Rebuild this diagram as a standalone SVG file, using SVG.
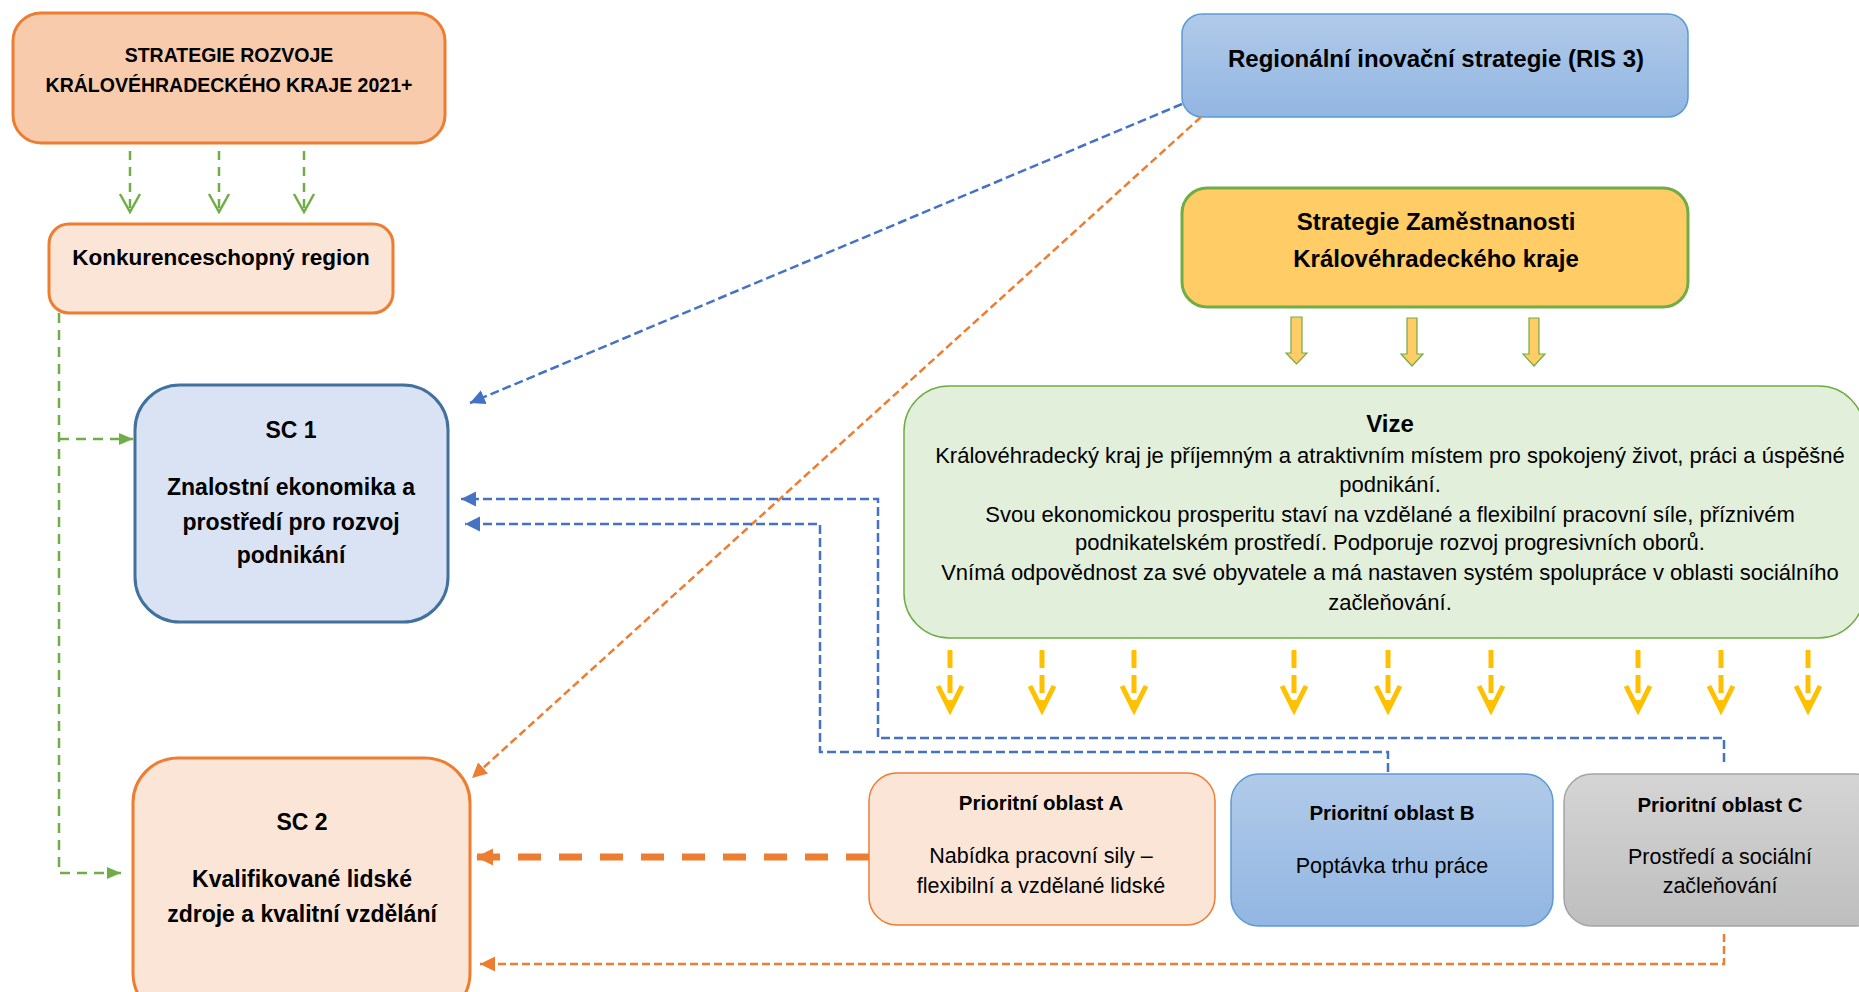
<svg xmlns="http://www.w3.org/2000/svg" width="1859" height="992" viewBox="0 0 1859 992">
<style>
text{font-family:"Liberation Sans",Arial,sans-serif;fill:#000;text-anchor:middle}
.b{font-weight:bold}
.t1{font-size:19.5px}
.t2{font-size:22.5px}
.t3{font-size:23px}
.t4{font-size:24px}
.tp{font-size:20.5px}
.r{font-size:21.5px}
.rv{font-size:22px}
.ob{stroke:#ED7D31;stroke-width:3}
.ob1{stroke:#ED7D31;stroke-width:1.5}
.gd{fill:none;stroke:#70AD47;stroke-width:2.5;stroke-dasharray:10 7}
.bd{fill:none;stroke:#4472C4;stroke-width:2.5;stroke-dasharray:9 4}
.od{fill:none;stroke:#ED7D31;stroke-width:2.5;stroke-dasharray:8 4}
.yd{fill:none;stroke:#FFC000;stroke-width:5}
.ya{fill:#FFCC66;stroke:#70AD47;stroke-width:1.2}
</style>
<defs>
<linearGradient id="gBlue" x1="0" y1="0" x2="0" y2="1"><stop offset="0" stop-color="#B1CAE9"/><stop offset="1" stop-color="#92B6E2"/></linearGradient>
<linearGradient id="gGray" x1="0" y1="0" x2="0" y2="1"><stop offset="0" stop-color="#D5D5D5"/><stop offset="1" stop-color="#BEBEBE"/></linearGradient>
<marker id="mB" markerUnits="userSpaceOnUse" markerWidth="16" markerHeight="16" refX="15" refY="7.5" orient="auto"><path d="M0,0 L15,7.5 L0,15 z" fill="#4472C4"/></marker>
<marker id="mO" markerUnits="userSpaceOnUse" markerWidth="16" markerHeight="16" refX="15" refY="7.5" orient="auto"><path d="M0,0 L15,7.5 L0,15 z" fill="#ED7D31"/></marker>
<marker id="mOT" markerUnits="userSpaceOnUse" markerWidth="18" markerHeight="18" refX="17" refY="8.5" orient="auto"><path d="M0,0 L17,8.5 L0,17 z" fill="#ED7D31"/></marker>
<marker id="mG" markerUnits="userSpaceOnUse" markerWidth="15" markerHeight="13" refX="14" refY="6" orient="auto"><path d="M0,0 L14,6 L0,12 z" fill="#70AD47"/></marker>
</defs>
<rect width="1859" height="992" fill="#fff"/>

<g id="strategie-rozvoje">
<rect x="13" y="13" width="432" height="130" rx="28" fill="#F8CBAD" class="ob"/>
<text class="b t1" x="229" y="62">STRATEGIE ROZVOJE</text>
<text class="b t1" x="229" y="92">KRÁLOVÉHRADECKÉHO KRAJE 2021+</text>
</g>

<g id="konkurenceschopny-region">
<rect x="49" y="224" width="344" height="89" rx="20" fill="#FBE5D6" class="ob"/>
<text class="b t2" x="221" y="265">Konkurenceschopný region</text>
</g>

<g id="sc1">
<rect x="135" y="385" width="313" height="237" rx="45" fill="#DAE3F3" stroke="#41719C" stroke-width="3"/>
<text class="b t3" x="291" y="438">SC 1</text>
<text class="b t3" x="291" y="495">Znalostní ekonomika a</text>
<text class="b t3" x="291" y="530">prostředí pro rozvoj</text>
<text class="b t3" x="291" y="563">podnikání</text>
</g>

<g id="sc2">
<rect x="133" y="758" width="337" height="260" rx="45" fill="#FBE5D6" class="ob"/>
<text class="b t3" x="302" y="830">SC 2</text>
<text class="b t3" x="302" y="887">Kvalifikované lidské</text>
<text class="b t3" x="302" y="922">zdroje a kvalitní vzdělání</text>
</g>

<g id="ris3">
<rect x="1182" y="14" width="506" height="103" rx="20" fill="url(#gBlue)" stroke="#5B9BD5" stroke-width="1.5"/>
<text class="b t4" x="1436" y="67">Regionální inovační strategie (RIS 3)</text>
</g>

<g id="strategie-zamestnanosti">
<rect x="1182" y="188" width="506" height="119" rx="25" fill="#FFCC66" stroke="#70AD47" stroke-width="3"/>
<text class="b t4" x="1436" y="230">Strategie Zaměstnanosti</text>
<text class="b t4" x="1436" y="267">Královéhradeckého kraje</text>
</g>

<g id="vize">
<rect x="904" y="386" width="960" height="252" rx="45" fill="#E2EFDA" stroke="#70AD47" stroke-width="1.5"/>
<text class="b t4" x="1390" y="432">Vize</text>
<text class="rv" x="1390" y="463">Královéhradecký kraj je příjemným a atraktivním místem pro spokojený život, práci a úspěšné</text>
<text class="rv" x="1390" y="492">podnikání.</text>
<text class="rv" x="1390" y="522">Svou ekonomickou prosperitu staví na vzdělané a flexibilní pracovní síle, příznivém</text>
<text class="rv" x="1390" y="550">podnikatelském prostředí. Podporuje rozvoj progresivních oborů.</text>
<text class="rv" x="1390" y="580">Vnímá odpovědnost za své obyvatele a má nastaven systém spolupráce v oblasti sociálního</text>
<text class="rv" x="1390" y="610">začleňování.</text>
</g>

<g id="prioritni-a">
<rect x="869" y="773" width="346" height="152" rx="28" fill="#FBE5D6" class="ob1"/>
<text class="b tp" x="1041" y="810">Prioritní oblast A</text>
<text class="r" x="1041" y="863">Nabídka pracovní sily –</text>
<text class="r" x="1041" y="893">flexibilní a vzdělané lidské</text>
</g>

<g id="prioritni-b">
<rect x="1231" y="774" width="322" height="152" rx="28" fill="url(#gBlue)" stroke="#5B9BD5" stroke-width="1.5"/>
<text class="b tp" x="1392" y="820">Prioritní oblast B</text>
<text class="r" x="1392" y="873">Poptávka trhu práce</text>
</g>

<g id="prioritni-c">
<rect x="1564" y="774" width="320" height="152" rx="28" fill="url(#gGray)" stroke="#A5A5A5" stroke-width="1.5"/>
<text class="b tp" x="1720" y="812">Prioritní oblast C</text>
<text class="r" x="1720" y="864">Prostředí a sociální</text>
<text class="r" x="1720" y="893">začleňování</text>
</g>

<g id="connectors">
<g fill="none" stroke="#70AD47" stroke-width="2.5">
<path d="M130,151 V209" stroke-dasharray="9 7"/><path d="M120,194 L130,212 L140,194"/>
<path d="M219,151 V209" stroke-dasharray="9 7"/><path d="M209,194 L219,212 L229,194"/>
<path d="M304,151 V209" stroke-dasharray="9 7"/><path d="M294,194 L304,212 L314,194"/>
</g>
<path class="gd" d="M59,313 V873 H121" marker-end="url(#mG)"/>
<path class="gd" d="M59,439 H133" marker-end="url(#mG)"/>
<path class="bd" d="M1182,104 L470,403" marker-end="url(#mB)"/>
<path class="od" d="M1201,117 L472,778" marker-end="url(#mO)"/>
<path class="bd" d="M1724,762 V738 H878 V499 H461" marker-end="url(#mB)"/>
<path class="bd" d="M1388,772 V752 H820 V524 H465" marker-end="url(#mB)"/>
<path d="M869,857 H476" fill="none" stroke="#ED7D31" stroke-width="7" stroke-dasharray="23 18" marker-end="url(#mOT)"/>
<path class="od" d="M1724,934 V964 H480" marker-end="url(#mO)"/>
<path class="ya" d="M1291,317 H1302 V353 H1307 L1296.5,364 L1286,353 H1291 Z"/>
<path class="ya" d="M1407,318 H1417 V354 H1423 L1412,366 L1401,354 H1407 Z"/>
<path class="ya" d="M1529,318 H1539 V354 H1545 L1534,366 L1523,354 H1529 Z"/>
<g class="yd">
<path d="M950,650 V706" stroke-dasharray="18 7"/><path d="M938,686 L950,710 L962,686"/>
<path d="M1042,650 V706" stroke-dasharray="18 7"/><path d="M1030,686 L1042,710 L1054,686"/>
<path d="M1134,650 V706" stroke-dasharray="18 7"/><path d="M1122,686 L1134,710 L1146,686"/>
<path d="M1294,650 V706" stroke-dasharray="18 7"/><path d="M1282,686 L1294,710 L1306,686"/>
<path d="M1388,650 V706" stroke-dasharray="18 7"/><path d="M1376,686 L1388,710 L1400,686"/>
<path d="M1491,650 V706" stroke-dasharray="18 7"/><path d="M1479,686 L1491,710 L1503,686"/>
<path d="M1638,650 V706" stroke-dasharray="18 7"/><path d="M1626,686 L1638,710 L1650,686"/>
<path d="M1721,650 V706" stroke-dasharray="18 7"/><path d="M1709,686 L1721,710 L1733,686"/>
<path d="M1808,650 V706" stroke-dasharray="18 7"/><path d="M1796,686 L1808,710 L1820,686"/>
</g>
</g>
</svg>
